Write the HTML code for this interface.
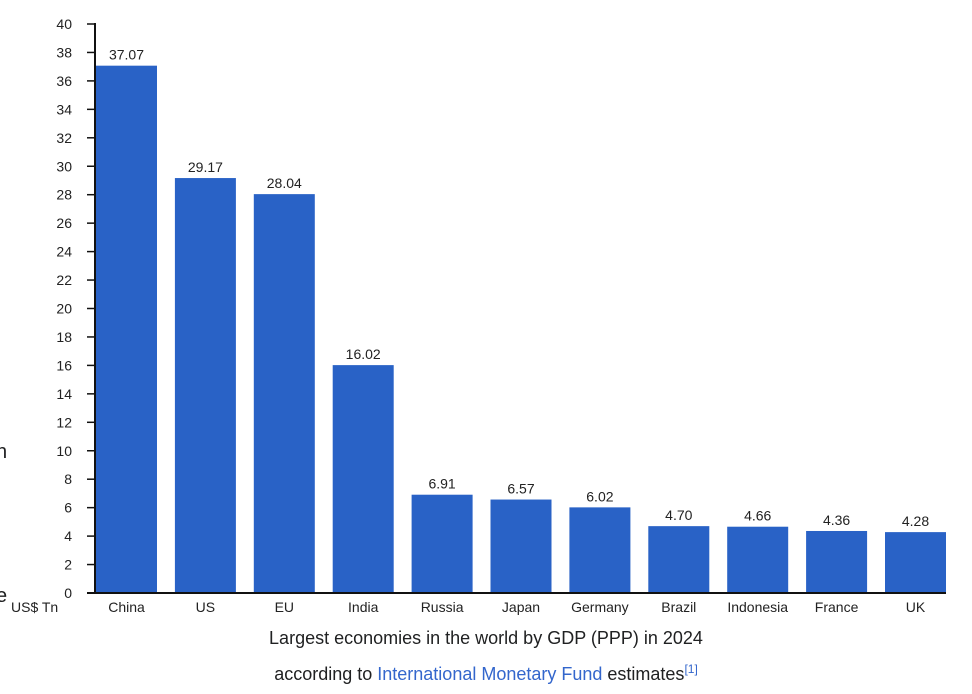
<!DOCTYPE html>
<html><head><meta charset="utf-8"><style>
body{margin:0;background:#fff;width:972px;height:694px;overflow:hidden;font-family:"Liberation Sans",sans-serif;}
svg text{font-family:"Liberation Sans",sans-serif;}
.cap{position:absolute;left:0;width:972px;text-align:center;font-size:18px;color:#202122;}
</style></head><body>
<svg id="chart" width="972" height="694" style="position:absolute;left:0;top:0">
<text x="-4" y="458" font-size="20" fill="#202122">n</text>
<text x="-4" y="602" font-size="20" fill="#202122">e</text>
<text x="11" y="612" font-size="14" fill="#222">US$ Tn</text>
</svg>
<div class="cap" style="top:628px">Largest economies in the world by GDP (PPP) in 2024</div>
<div class="cap" style="top:662px">according to <span style="color:#3366cc">International Monetary Fund</span> estimates<sup style="color:#3366cc;font-size:12px">[1]</sup></div>
<script>
const categories=["China","US","EU","India","Russia","Japan","Germany","Brazil","Indonesia","France","UK"];
const values=[37.07,29.17,28.04,16.02,6.91,6.57,6.02,4.70,4.66,4.36,4.28];
const valueLabels=["37.07","29.17","28.04","16.02","6.91","6.57","6.02","4.70","4.66","4.36","4.28"];
const yTicks=[0,2,4,6,8,10,12,14,16,18,20,22,24,26,28,30,32,34,36,38,40];
const svg=document.getElementById('chart');
const NS='http://www.w3.org/2000/svg';
const y0=593,y1=24,yMax=40;
const y=v=>y0-(v/yMax)*(y0-y1);
const x0=96,step=78.9,bw=61;
const x=i=>x0+i*step;
function mk(t,a){const e=document.createElementNS(NS,t);for(const k in a)e.setAttribute(k,a[k]);svg.appendChild(e);return e;}
categories.forEach((c,i)=>{
 const r=mk('rect',{x:x(i),y:y(values[i]),width:bw,height:y0-y(values[i]),fill:'#2962c6'});
 
 
 const t=mk('text',{x:x(i)+bw/2,y:y(values[i])-6,'font-size':14,'text-anchor':'middle',fill:'#222'});
 t.textContent=valueLabels[i];
 
 
 const l=mk('text',{x:x(i)+bw/2,y:612,'font-size':14,'text-anchor':'middle',fill:'#222'});
 l.textContent=c;
 
 
});
const ax=mk('line',{x1:95,y1:y1-1,x2:95,y2:y0+1,stroke:'#111','stroke-width':2});


const bx=mk('line',{x1:87,y1:y0,x2:946,y2:y0,stroke:'#111','stroke-width':2});


yTicks.forEach(v=>{
 const tk=mk('line',{x1:87,y1:y(v),x2:95,y2:y(v),stroke:'#111','stroke-width':1.5});
 
 
 const tl=mk('text',{x:72,y:y(v)+5,'font-size':14,'text-anchor':'end',fill:'#222'});
 tl.textContent=v;
 
 
});
</script>
</body></html>
